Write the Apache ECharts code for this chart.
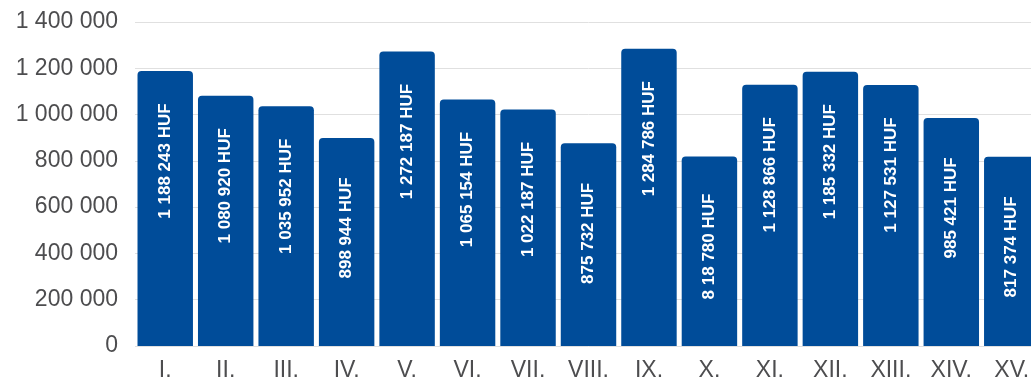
<!DOCTYPE html>
<html>
<head>
<meta charset="utf-8">
<script src="https://cdn.jsdelivr.net/npm/echarts@6/dist/echarts.min.js"></script>
<style>
html,body{margin:0;padding:0;background:#fff;overflow:hidden;width:1031px;height:382px;}
#chart{width:1045px;height:382px;}
</style>
</head>
<body>
<div id="chart"></div>
<script>
var categories = ['I.','II.','III.','IV.','V.','VI.','VII.','VIII.','IX.','X.','XI.','XII.','XIII.','XIV.','XV.'];
var values = [1188243,1080920,1035952,898944,1272187,1065154,1022187,875732,1284786,818780,1128866,1185332,1127531,985421,817374];
var barLabels = ['1 188 243 HUF','1 080 920 HUF','1 035 952 HUF','898 944 HUF','1 272 187 HUF','1 065 154 HUF','1 022 187 HUF','875 732 HUF','1 284 786 HUF','8 18 780 HUF','1 128 866 HUF','1 185 332 HUF','1 127 531 HUF','985 421 HUF','817 374 HUF'];
var yTicks = [0,200000,400000,600000,800000,1000000,1200000,1400000];

function fmt(v){ return String(v).replace(/\B(?=(\d{3})+(?!\d))/g,' '); }

var chart = echarts.init(document.getElementById('chart'));
chart.setOption({
  animation:false,
  grid:{left:135, top:22, width:907, height:328, containLabel:false},
  xAxis:{
    type:'category',
    data:categories,
    axisLine:{show:false},
    axisTick:{show:false},
    axisLabel:{color:'#4d4d4f', fontSize:23, fontFamily:'Liberation Sans, Arial, sans-serif', margin:13}
  },
  yAxis:{
    type:'value',
    min:yTicks[0], max:yTicks[yTicks.length-1], interval:200000,
    axisLine:{show:false},
    axisTick:{show:false},
    splitLine:{lineStyle:{color:'#e0e0e0', width:1}},
    axisLabel:{color:'#4d4d4f', fontSize:23, fontFamily:'Liberation Sans, Arial, sans-serif', margin:17, formatter:fmt}
  },
  series:[{
    type:'bar',
    data:values,
    barCategoryGap:'8.3%',
    itemStyle:{color:'#004c99', borderRadius:[4,4,0,0]},
    label:{
      show:true,
      position:['50%',90],
      rotate:90,
      align:'center',
      verticalAlign:'middle',
      color:'#ffffff',
      fontWeight:'bold',
      fontSize:17,
      fontFamily:'Liberation Sans, Arial, sans-serif',
      formatter:function(p){ return barLabels[p.dataIndex]; }
    }
  }]
});
</script>
</body>
</html>
